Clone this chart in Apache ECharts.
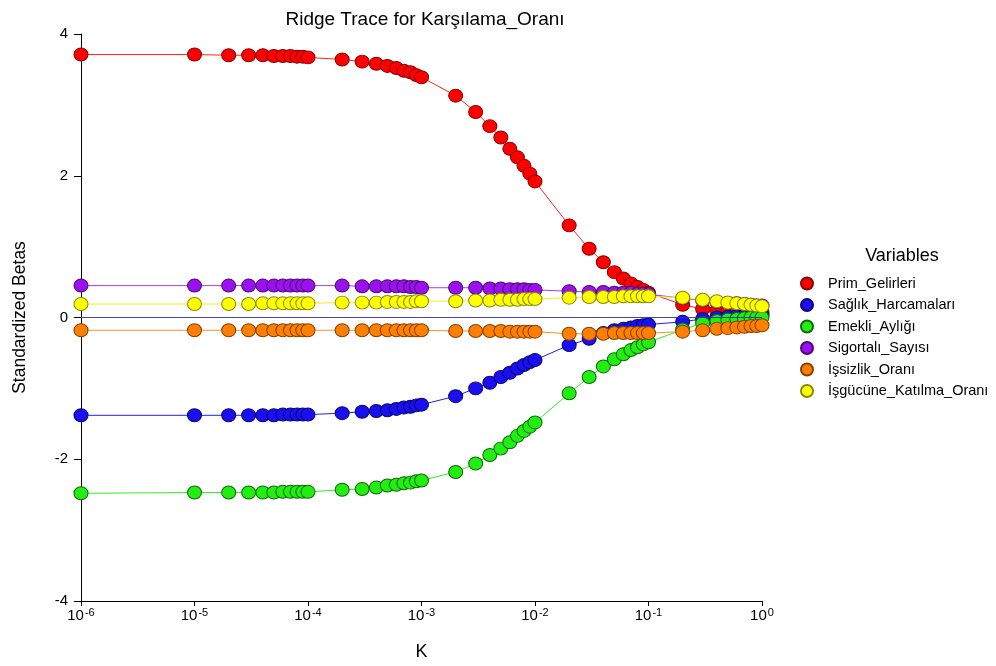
<!DOCTYPE html>
<html>
<head>
<meta charset="utf-8">
<script src="https://cdn.jsdelivr.net/npm/echarts@6/dist/echarts.min.js"></script>
<style>
html,body{margin:0;padding:0;background:#fff;}
#chart{width:996px;height:666px;}
</style>
</head>
<body>
<div id="chart"></div>
<script>
var kValues = [1e-6,
  1e-5,2e-5,3e-5,4e-5,5e-5,6e-5,7e-5,8e-5,9e-5,
  1e-4,2e-4,3e-4,4e-4,5e-4,6e-4,7e-4,8e-4,9e-4,
  1e-3,2e-3,3e-3,4e-3,5e-3,6e-3,7e-3,8e-3,9e-3,
  1e-2,2e-2,3e-2,4e-2,5e-2,6e-2,7e-2,8e-2,9e-2,
  0.1,0.2,0.3,0.4,0.5,0.6,0.7,0.8,0.9,
  1];

var seriesNames = ['Prim_Gelirleri','Sağlık_Harcamaları','Emekli_Aylığı','Sigortalı_Sayısı','İşsizlik_Oranı','İşgücüne_Katılma_Oranı'];

var primGelirleri = [3.71,
  3.71,3.70,3.70,3.70,3.69,3.69,3.69,3.68,3.68,
  3.67,3.64,3.61,3.58,3.55,3.52,3.48,3.46,3.42,
  3.39,3.13,2.90,2.70,2.54,2.38,2.26,2.14,2.03,
  1.92,1.30,0.97,0.78,0.64,0.55,0.48,0.43,0.39,
  0.35,0.18,0.12,0.10,0.09,0.08,0.08,0.07,0.07,
  0.07];

var saglikHarcamalari = [-1.38,
  -1.38,-1.38,-1.38,-1.38,-1.38,-1.37,-1.37,-1.37,-1.37,
  -1.37,-1.35,-1.33,-1.32,-1.31,-1.29,-1.27,-1.26,-1.24,
  -1.23,-1.11,-1.00,-0.92,-0.84,-0.78,-0.72,-0.67,-0.63,
  -0.60,-0.39,-0.30,-0.22,-0.18,-0.16,-0.14,-0.12,-0.11,
  -0.10,-0.06,-0.02,0.00,0.01,0.02,0.02,0.03,0.03,
  0.03];

var emekliAyligi = [-2.48,
  -2.47,-2.47,-2.47,-2.47,-2.47,-2.46,-2.46,-2.46,-2.46,
  -2.46,-2.43,-2.42,-2.40,-2.37,-2.36,-2.34,-2.33,-2.31,
  -2.30,-2.18,-2.06,-1.94,-1.85,-1.76,-1.67,-1.60,-1.54,
  -1.48,-1.07,-0.84,-0.69,-0.59,-0.52,-0.46,-0.42,-0.38,
  -0.35,-0.17,-0.08,-0.05,-0.03,-0.02,-0.01,0.00,0.00,
  0.00];

var sigortaliSayisi = [0.45,
  0.45,0.45,0.45,0.45,0.45,0.45,0.45,0.45,0.45,
  0.45,0.45,0.44,0.44,0.44,0.44,0.44,0.43,0.43,
  0.42,0.42,0.42,0.41,0.41,0.40,0.40,0.40,0.39,
  0.39,0.37,0.36,0.36,0.35,0.35,0.35,0.34,0.34,
  0.33,0.27,0.24,0.22,0.21,0.20,0.19,0.18,0.17,
  0.17];

var issizlikOrani = [-0.18,
  -0.18,-0.18,-0.18,-0.18,-0.18,-0.18,-0.18,-0.18,-0.18,
  -0.18,-0.18,-0.18,-0.18,-0.18,-0.18,-0.18,-0.18,-0.18,
  -0.18,-0.19,-0.19,-0.19,-0.19,-0.20,-0.20,-0.20,-0.20,
  -0.20,-0.23,-0.23,-0.23,-0.22,-0.22,-0.22,-0.22,-0.22,
  -0.22,-0.20,-0.18,-0.16,-0.15,-0.14,-0.13,-0.12,-0.12,
  -0.11];

var isgucuneKatilma = [0.19,
  0.19,0.19,0.19,0.20,0.20,0.20,0.20,0.20,0.20,
  0.20,0.21,0.21,0.21,0.22,0.22,0.22,0.22,0.23,
  0.23,0.23,0.24,0.24,0.25,0.25,0.25,0.26,0.26,
  0.26,0.28,0.29,0.29,0.29,0.30,0.30,0.30,0.30,
  0.30,0.28,0.25,0.23,0.21,0.20,0.19,0.18,0.17,
  0.16];

var yTicks = [-4,-2,0,2,4];

var allValues = [primGelirleri, saglikHarcamalari, emekliAyligi, sigortaliSayisi, issizlikOrani, isgucuneKatilma];
var fillColors = ['#ff0000','#1a0ff0','#22ee11','#9a10ee','#ff8000','#ffff00'];
var borderColors = ['#8a0000','#0a0570','#0e6a06','#4a0872','#884000','#8a8a00'];
var lineColors = ['#ff2020','#2020f0','#30ee20','#a040ee','#ff9030','#f0f020'];

var font = '"Liberation Sans", Arial, sans-serif';

var series = [{
  name: 'zero',
  type: 'line',
  data: [],
  silent: true,
  markLine: {
    silent: true,
    symbol: 'none',
    label: {show: false},
    lineStyle: {color: '#3030b8', width: 1.2, type: 'solid', opacity: 0.9},
    data: [{yAxis: 0}]
  }
}];

seriesNames.forEach(function (name, i) {
  series.push({
    name: name,
    type: 'line',
    symbol: 'circle',
    symbolSize: [14, 13],
    data: kValues.map(function (k, j) { return [k, allValues[i][j]]; }),
    lineStyle: {color: lineColors[i], width: 1},
    itemStyle: {color: fillColors[i], borderColor: borderColors[i], borderWidth: 1},
    emphasis: {disabled: true},
    animation: false
  });
});

var chart = echarts.init(document.getElementById('chart'));
chart.setOption({
  animation: false,
  backgroundColor: '#ffffff',
  textStyle: {fontFamily: font},
  title: [{
    text: 'Ridge Trace for Karşılama_Oranı',
    left: 420, top: 5, textAlign: 'center',
    textStyle: {fontFamily: font, fontSize: 19, fontWeight: 'normal', color: '#000'}
  }, {
    text: 'Variables',
    left: 897, top: 242, textAlign: 'center',
    textStyle: {fontFamily: font, fontSize: 18, fontWeight: 'normal', color: '#000'}
  }],
  legend: {
    data: seriesNames,
    orient: 'vertical',
    left: 795, top: 271,
    icon: 'circle',
    itemWidth: 14, itemHeight: 12,
    itemGap: 6.5,
    textStyle: {fontFamily: font, fontSize: 14.5, lineHeight: 14, color: '#000', padding: [0, 0, 0, 9]},
    selectedMode: false
  },
  grid: {left: 81, right: 234, top: 34, bottom: 64, containLabel: false},
  xAxis: {
    type: 'log',
    logBase: 10,
    min: 1e-6, max: 1,
    name: 'K',
    nameLocation: 'middle',
    nameGap: 42,
    nameTextStyle: {fontFamily: font, fontSize: 18, color: '#000'},
    axisLine: {show: true, onZero: false, lineStyle: {color: '#000', width: 1}},
    axisTick: {show: true, length: 5, lineStyle: {color: '#000'}},
    minorTick: {show: false},
    splitLine: {show: false},
    axisLabel: {
      margin: 6,
      color: '#000',
      formatter: function (v) { return '10{s|' + Math.round(Math.log10(v)) + '}'; },
      rich: {
        s: {fontSize: 11, fontFamily: font, color: '#000', padding: [0, 0, 7, 1]}
      },
      fontSize: 15,
      fontFamily: font
    }
  },
  yAxis: {
    type: 'value',
    min: -4, max: 4, interval: 2,
    name: 'Standardized Betas',
    nameLocation: 'middle',
    nameGap: 52,
    nameTextStyle: {fontFamily: font, fontSize: 17.5, color: '#000'},
    axisLine: {show: true, onZero: false, lineStyle: {color: '#000', width: 1}},
    axisTick: {show: true, length: 7, lineStyle: {color: '#000'}},
    splitLine: {show: false},
    axisLabel: {color: '#000', fontSize: 15, fontFamily: font, margin: 13,
      formatter: function (v) { return yTicks.indexOf(v) >= 0 ? String(v) : ''; }}
  },
  series: series
});
</script>
</body>
</html>
